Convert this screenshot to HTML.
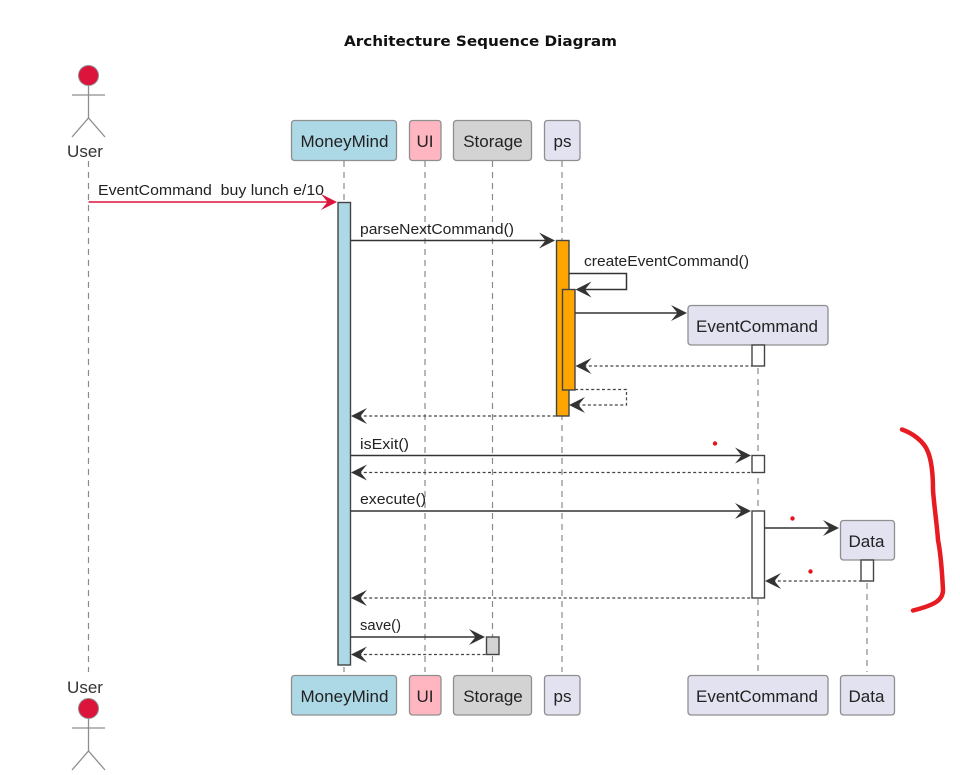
<!DOCTYPE html>
<html><head><meta charset="utf-8"><style>
html,body{margin:0;padding:0;background:#fff}
svg{display:block;filter:blur(0.3px)}
text{font-family:"Liberation Sans",sans-serif;fill:#222}
.t{font-size:15px}
.n{font-size:17px;text-anchor:middle}
.life{stroke:#8a8a8a;stroke-width:1.2;stroke-dasharray:6 5;fill:none}
.box{stroke:#8f8f8f;stroke-width:1.3}
.act{stroke:#444;stroke-width:1.4}
.m{stroke:#333;stroke-width:1.5;fill:none}
.d{stroke:#444;stroke-width:1.2;stroke-dasharray:3 2.4;fill:none}
.a{fill:#333}
.act-w{fill:#fff}
.fig{stroke:#8e8e8e;stroke-width:1.3;fill:none}
</style></head><body>
<svg width="960" height="775" viewBox="0 0 960 775" xmlns="http://www.w3.org/2000/svg">
<defs>
<path id="ar" d="M0 0 L-16 -8 L-9.5 0 L-16 8 Z"/>
<path id="al" d="M0 0 L16 -8 L9.5 0 L16 8 Z"/>
</defs>
<rect width="960" height="775" fill="#fff"/>
<text x="344" y="46" textLength="273" lengthAdjust="spacingAndGlyphs" style="font-family:'DejaVu Sans',sans-serif;font-size:14px;font-weight:bold;fill:#111">Architecture Sequence Diagram</text>

<!-- lifelines -->
<line class="life" x1="88.5" y1="161" x2="88.5" y2="672"/>
<line class="life" x1="344" y1="161" x2="344" y2="672"/>
<line class="life" x1="425" y1="161" x2="425" y2="672"/>
<line class="life" x1="492.5" y1="161" x2="492.5" y2="672"/>
<line class="life" x1="562" y1="161" x2="562" y2="672"/>
<line class="life" x1="758" y1="346" x2="758" y2="672"/>
<line class="life" x1="867" y1="561" x2="867" y2="672"/>

<!-- top actor -->
<circle cx="88.5" cy="75.5" r="10" fill="#dc143c" stroke="#8e8e8e" stroke-width="1"/>
<path class="fig" d="M88.5 86V118M72 95H105M72 137L88.5 118L105 137"/>
<text x="85" y="157" class="n" style="fill:#333">User</text>

<!-- bottom actor -->
<text x="85" y="693" class="n" style="fill:#333">User</text>
<circle cx="88.5" cy="708.5" r="10" fill="#dc143c" stroke="#8e8e8e" stroke-width="1"/>
<path class="fig" d="M88.5 719V751M72 728H105M72 770L88.5 751L105 770"/>

<!-- top participants -->
<rect class="box" x="291.5" y="120.5" width="105" height="40" rx="3" fill="#add8e6"/>
<text class="n" x="344.5" y="147" textLength="88">MoneyMind</text>
<rect class="box" x="409.5" y="120.5" width="31.5" height="40" rx="3" fill="#ffb6c1"/>
<text class="n" x="425" y="147">UI</text>
<rect class="box" x="453.5" y="120.5" width="78" height="40" rx="3" fill="#d3d3d3"/>
<text class="n" x="493" y="147">Storage</text>
<rect class="box" x="544.5" y="120.5" width="35.5" height="40" rx="3" fill="#e2e2f0"/>
<text class="n" x="562.5" y="147">ps</text>
<rect class="box" x="688" y="305.5" width="140" height="39.5" rx="3" fill="#e2e2f0"/>
<text class="n" x="757" y="332" textLength="122">EventCommand</text>
<rect class="box" x="840.5" y="520.5" width="54" height="39.5" rx="3" fill="#e2e2f0"/>
<text class="n" x="866.5" y="547">Data</text>

<!-- bottom participants -->
<rect class="box" x="291.5" y="675.5" width="105" height="39.5" rx="3" fill="#add8e6"/>
<text class="n" x="344.5" y="702" textLength="88">MoneyMind</text>
<rect class="box" x="409.5" y="675.5" width="31.5" height="39.5" rx="3" fill="#ffb6c1"/>
<text class="n" x="425" y="702">UI</text>
<rect class="box" x="453.5" y="675.5" width="78" height="39.5" rx="3" fill="#d3d3d3"/>
<text class="n" x="493" y="702">Storage</text>
<rect class="box" x="544.5" y="675.5" width="35.5" height="39.5" rx="3" fill="#e2e2f0"/>
<text class="n" x="562.5" y="702">ps</text>
<rect class="box" x="688" y="675.5" width="140" height="39.5" rx="3" fill="#e2e2f0"/>
<text class="n" x="757" y="702" textLength="122">EventCommand</text>
<rect class="box" x="840.5" y="675.5" width="54" height="39.5" rx="3" fill="#e2e2f0"/>
<text class="n" x="866.5" y="702">Data</text>

<!-- activations -->
<rect class="act" x="338" y="202.5" width="12.5" height="462.5" fill="#add8e6"/>
<rect class="act" x="556.5" y="240.5" width="12.5" height="175.5" fill="#ffa500"/>
<rect class="act" x="562.5" y="289.5" width="12.5" height="100.5" fill="#ffa500"/>
<rect class="act act-w" x="752" y="345" width="12.5" height="21"/>
<rect class="act act-w" x="752" y="455.5" width="12.5" height="17"/>
<rect class="act act-w" x="752" y="511" width="12.5" height="87"/>
<rect class="act act-w" x="861" y="560" width="12.5" height="21"/>
<rect class="act" x="486.5" y="637" width="12.5" height="17.5" fill="#d3d3d3"/>

<!-- messages -->
<line x1="88.5" y1="202" x2="334" y2="202" stroke="#dc143c" stroke-width="1.5"/>
<use href="#ar" x="337" y="202" fill="#dc143c"/>
<text class="t" x="98" y="195" textLength="226" lengthAdjust="spacingAndGlyphs" xml:space="preserve">EventCommand  buy lunch e/10</text>

<line class="m" x1="350.5" y1="240.5" x2="553" y2="240.5"/>
<use class="a" href="#ar" x="555" y="240.5"/>
<text class="t" x="360" y="234" textLength="154" lengthAdjust="spacingAndGlyphs">parseNextCommand()</text>

<path class="m" d="M569 273.5H626.5V289.5H578"/>
<use class="a" href="#al" x="575.5" y="289.5"/>
<text class="t" x="584" y="266" textLength="165" lengthAdjust="spacingAndGlyphs">createEventCommand()</text>

<line class="m" x1="575" y1="313" x2="685" y2="313"/>
<use class="a" href="#ar" x="687" y="313"/>

<line class="d" x1="578" y1="366" x2="752" y2="366"/>
<use class="a" href="#al" x="575.5" y="366"/>

<path class="d" d="M575 389.5H626.5V405H572"/>
<use class="a" href="#al" x="569" y="405"/>

<line class="d" x1="353" y1="416" x2="556.5" y2="416"/>
<use class="a" href="#al" x="351" y="416"/>

<line class="m" x1="350.5" y1="455.5" x2="749" y2="455.5"/>
<use class="a" href="#ar" x="751" y="455.5"/>
<text class="t" x="360" y="449" textLength="49" lengthAdjust="spacingAndGlyphs">isExit()</text>

<line class="d" x1="353" y1="472.5" x2="752" y2="472.5"/>
<use class="a" href="#al" x="351" y="472.5"/>

<line class="m" x1="350.5" y1="511" x2="749" y2="511"/>
<use class="a" href="#ar" x="751" y="511"/>
<text class="t" x="360" y="504" textLength="66" lengthAdjust="spacingAndGlyphs">execute()</text>

<line class="m" x1="764.5" y1="528" x2="837" y2="528"/>
<use class="a" href="#ar" x="839" y="528"/>

<line class="d" x1="767" y1="581" x2="861" y2="581"/>
<use class="a" href="#al" x="765" y="581"/>

<line class="d" x1="353" y1="598" x2="752" y2="598"/>
<use class="a" href="#al" x="351" y="598"/>

<line class="m" x1="350.5" y1="637" x2="483" y2="637"/>
<use class="a" href="#ar" x="485" y="637"/>
<text class="t" x="360" y="630" textLength="41" lengthAdjust="spacingAndGlyphs">save()</text>

<line class="d" x1="353" y1="654.5" x2="486.5" y2="654.5"/>
<use class="a" href="#al" x="351" y="654.5"/>

<!-- red annotations -->
<circle cx="715" cy="443.5" r="2.2" fill="#e8141c"/>
<circle cx="792.5" cy="518.5" r="2.2" fill="#e8141c"/>
<circle cx="810.5" cy="571.5" r="2.2" fill="#e8141c"/>
<path d="M902 429.5 C912 433 924 441 928 452 C932 462 933 475 933 490 C934 505 937 525 938 540 C941 555 942 570 943 590 C943 600 935 605 913 610.5" fill="none" stroke="#e61c22" stroke-width="4.5" stroke-linecap="round" stroke-linejoin="round"/>
</svg>
</body></html>
